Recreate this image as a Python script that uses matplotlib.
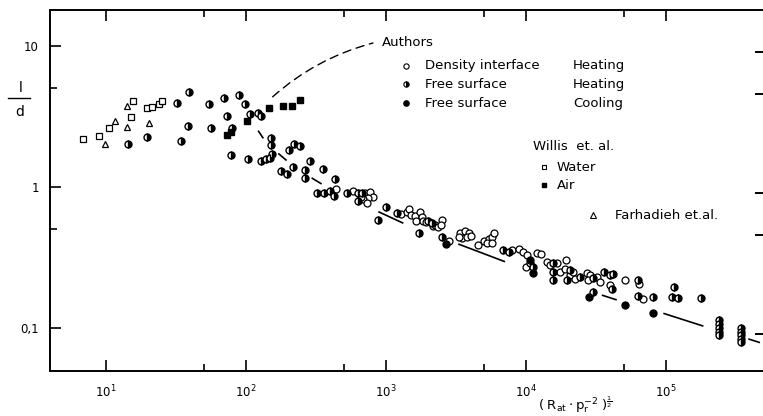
import matplotlib
matplotlib.use("Agg")
import matplotlib.pyplot as plt
from matplotlib.lines import Line2D
from matplotlib.ticker import FixedLocator

# Authors - density interface, heating (open circles)
dens_x = [439, 584, 708, 769, 812, 748, 689, 728, 659,
          1290, 1410, 1470, 1500, 1610, 1750, 1800, 1640, 1850, 1930, 2180, 2240, 2360, 2500, 2470, 2830,
          3400, 3650, 3900, 3490, 3790, 4070, 3310, 4560, 4990, 5410, 5720, 5880, 5260, 5720,
          7940, 8870, 9570, 10100, 10000, 11900, 12900, 14100, 14800, 16600, 17500, 19200, 19000,
          20600, 21800, 22400, 27200, 28700, 27900, 32000, 33800, 39800, 50900, 64400, 68800]
dens_y = [0.96, 0.94, 0.90, 0.92, 0.845, 0.83, 0.82, 0.775, 0.853,
          0.644, 0.668, 0.695, 0.633, 0.622, 0.668, 0.615, 0.577, 0.577, 0.567, 0.529, 0.537, 0.523, 0.583, 0.537, 0.416,
          0.47, 0.488, 0.474, 0.437, 0.445, 0.449, 0.445, 0.388, 0.414, 0.43, 0.445, 0.47, 0.403, 0.403,
          0.357, 0.361, 0.348, 0.33, 0.272, 0.34, 0.335, 0.295, 0.28, 0.288, 0.251, 0.303, 0.261,
          0.238, 0.251, 0.221, 0.244, 0.238, 0.219, 0.229, 0.213, 0.202, 0.219, 0.205, 0.161]

# Authors - free surface, heating (half filled circles)
heat_x = [14.4, 19.6, 34.3, 32.0, 39.2, 38.4, 54.8, 56.0, 69.3, 73.2, 79.4, 89.3, 98.3, 78.2, 104,
          107, 122, 128, 152, 151, 153, 129, 140, 148, 202, 219, 244, 179, 196, 218, 265, 263, 288,
          356, 431, 320, 358, 395, 424, 524, 634, 670, 634, 1000, 881, 1190, 1730, 2000, 2120, 2500,
          6850, 7570, 10700, 11200, 15700, 15700, 15700, 19600, 20600, 24300, 30300, 36100, 39800,
          42000, 41000, 30300, 63400, 63400, 80300, 114000, 110000, 121000, 177000,
          240000, 240000, 240000, 240000, 240000, 342000, 342000, 342000, 342000, 342000]
heat_y = [2.02, 2.28, 2.11, 3.96, 4.74, 2.71, 3.88, 2.62, 4.25, 3.19, 2.64, 4.48, 3.86, 1.69, 1.57,
          3.28, 3.33, 3.21, 2.23, 1.99, 1.71, 1.52, 1.57, 1.61, 1.83, 2.03, 1.95, 1.29, 1.23, 1.38, 1.31, 1.15, 1.53,
          1.34, 1.14, 0.90, 0.91, 0.94, 0.86, 0.91, 0.90, 0.91, 0.79, 0.72, 0.58, 0.65, 0.475, 0.57, 0.553, 0.445,
          0.357, 0.346, 0.289, 0.272, 0.288, 0.251, 0.219, 0.219, 0.258, 0.231, 0.225, 0.251, 0.238,
          0.241, 0.188, 0.181, 0.219, 0.169, 0.165, 0.195, 0.167, 0.163, 0.163,
          0.113, 0.107, 0.100, 0.094, 0.089, 0.100, 0.094, 0.089, 0.083, 0.079]

# Authors - free surface, cooling (filled circles)
cool_x = [2670, 10700, 11200, 28300, 50900, 80300]
cool_y = [0.393, 0.303, 0.246, 0.167, 0.146, 0.127]

# Willis et al. - water (open squares), air (filled squares)
water_x = [6.85, 8.9, 10.5, 15.1, 15.5, 19.6, 21.2, 23.9, 25.2]
water_y = [2.19, 2.30, 2.62, 3.16, 4.09, 3.61, 3.69, 3.86, 4.09]
air_x = [72.6, 78.7, 101, 147, 184, 213, 242]
air_y = [2.32, 2.45, 2.95, 3.65, 3.73, 3.78, 4.16]

# Farhadieh et al. (open triangles)
farh_x = [9.9, 11.5, 14.2, 14.1, 20.3]
farh_y = [2.03, 2.95, 2.67, 3.74, 2.84]

# broken trend line, drawn as separate pieces
trend_segments = [((122, 2.51), (133, 2.21)),
                  ((170, 1.73), (195, 1.54)),
                  ((294, 1.16), (347, 1.05)),
                  ((881, 0.668), (1330, 0.553)),
                  ((3280, 0.394), (7080, 0.295)),
                  ((34800, 0.171), (44500, 0.158)),
                  ((95700, 0.127), (185000, 0.103)),
                  ((387000, 0.0836), (469000, 0.0787))]

x_ticks = [10, 100, 1000, 10000, 100000]
x_ticklabels = ['10$^1$', '10$^2$', '10$^3$', '10$^4$', '10$^5$']
x_minor = [50, 500, 5000, 50000]
y_ticks = [0.1, 1, 10]
y_ticklabels = ['0,1', '1', '10']
y_minor = [0.5, 5]

plt.rcParams['font.family'] = ['DejaVu Sans']
plt.rcParams['mathtext.fontset'] = 'dejavusans'

fig = plt.figure(figsize=(7.63, 4.16), dpi=100)
ax = fig.add_axes([50/763, 1-371/416, 713/763, 361/416])
ax.set_xscale('log')
ax.set_yscale('log')
ax.set_xlim(3.98, 493000)
ax.set_ylim(0.0495, 18.0)

ms = 5
ax.plot(dens_x, dens_y, 'o', ms=ms, mfc='white', mec='black', mew=0.9, ls='None')
ax.plot(heat_x, heat_y, 'o', ms=ms, fillstyle='right', mfc='black', mfcalt='white',
        mec='black', mew=1.0, ls='None')
ax.plot(cool_x, cool_y, 'o', ms=ms, mfc='black', mec='black', ls='None')
ax.plot(water_x, water_y, 's', ms=4.5, mfc='white', mec='black', mew=0.9, ls='None')
ax.plot(air_x, air_y, 's', ms=4.5, mfc='black', mec='black', ls='None')
ax.plot(farh_x, farh_y, '^', ms=5, mfc='white', mec='black', mew=0.9, ls='None')

for (x0, y0), (x1, y1) in trend_segments:
    ax.plot([x0, x1], [y0, y1], color='black', lw=1.2, solid_capstyle='butt')

# leader line to the "Authors" legend
ax.annotate('', xy=(807, 10.5), xytext=(155, 4.36),
            arrowprops=dict(arrowstyle='-', color='black', lw=1.0, linestyle=(0, (6, 4)),
                            connectionstyle='arc3,rad=-0.12', shrinkA=0, shrinkB=0))

# spines and ticks
for s in ['left', 'bottom', 'top']:
    ax.spines[s].set_linewidth(1.4)
ax.spines['right'].set_visible(False)

ax.xaxis.set_major_locator(FixedLocator(x_ticks))
ax.xaxis.set_minor_locator(FixedLocator(x_minor))
ax.set_xticklabels(x_ticklabels)
ax.yaxis.set_major_locator(FixedLocator(y_ticks))
ax.yaxis.set_minor_locator(FixedLocator(y_minor))
ax.set_yticklabels(y_ticklabels)
ax.tick_params(which='major', direction='in', length=8, width=1.2, top=True,
               labelsize=8.5, pad=9)
ax.tick_params(which='minor', direction='in', length=5, width=1.2, top=True)
ax.tick_params(axis='y', which='major', pad=8)

# right hand ticks, slightly shifted as in the scan
ax2 = ax.twinx()
ax2.set_yscale('log')
ax2.set_ylim(0.0495 * 1.103, 18.0 * 1.103)
ax2.yaxis.set_major_locator(FixedLocator(y_ticks))
ax2.yaxis.set_minor_locator(FixedLocator(y_minor))
ax2.tick_params(which='both', direction='in', length=6, width=1.4, labelright=False)
for s in ax2.spines.values():
    s.set_visible(False)

# legend drawn by hand
tr = ax.transAxes
fs = 9.5
ax.text(0.4656, 0.9086, 'Authors', transform=tr, fontsize=fs, va='center', ha='left')
leg_rows = [(0.845, dict(mfc='white', mec='black', mew=0.8), 'Density interface', 'Heating'),
            (0.795, dict(fillstyle='right', mfc='black', mfcalt='white', mec='black', mew=0.8), 'Free surface', 'Heating'),
            (0.742, dict(mfc='black', mec='black'), 'Free surface', 'Cooling')]
for fy, style, name, mode in leg_rows:
    ax.plot([0.4993], [fy], 'o', ms=3.8, transform=tr, clip_on=False, **style)
    ax.text(0.526, fy, name, transform=tr, fontsize=fs, va='center', ha='left')
    ax.text(0.7335, fy, mode, transform=tr, fontsize=fs, va='center', ha='left')

ax.text(0.677, 0.623, 'Willis  et. al.', transform=tr, fontsize=fs, va='center', ha='left')
ax.plot([0.693], [0.565], 's', ms=3.5, mfc='white', mec='black', mew=0.8, transform=tr)
ax.text(0.711, 0.565, 'Water', transform=tr, fontsize=fs, va='center', ha='left')
ax.plot([0.693], [0.515], 's', ms=3.5, mfc='black', mec='black', transform=tr)
ax.text(0.711, 0.515, 'Air', transform=tr, fontsize=fs, va='center', ha='left')
ax.plot([0.7616], [0.432], '^', ms=4, mfc='white', mec='black', mew=0.8, transform=tr)
ax.text(0.7924, 0.432, 'Farhadieh et.al.', transform=tr, fontsize=fs, va='center', ha='left')

# axis labels
fig.text(575/763, 1 - 405/416, r'$(\;\mathregular{R_{at}\cdot p_r^{-2}}\;)^{\frac{1}{2}}$',
         fontsize=9.5, ha='center', va='center')
fig.text(21/763, 1 - 88/416, 'l', fontsize=10, ha='center', va='center')
fig.add_artist(Line2D([8/763, 30/763], [1 - 98/416, 1 - 98/416], color='black', lw=1.0))
fig.text(20/763, 1 - 112/416, 'd', fontsize=10, ha='center', va='center')

fig.savefig('out.png', dpi=100)
